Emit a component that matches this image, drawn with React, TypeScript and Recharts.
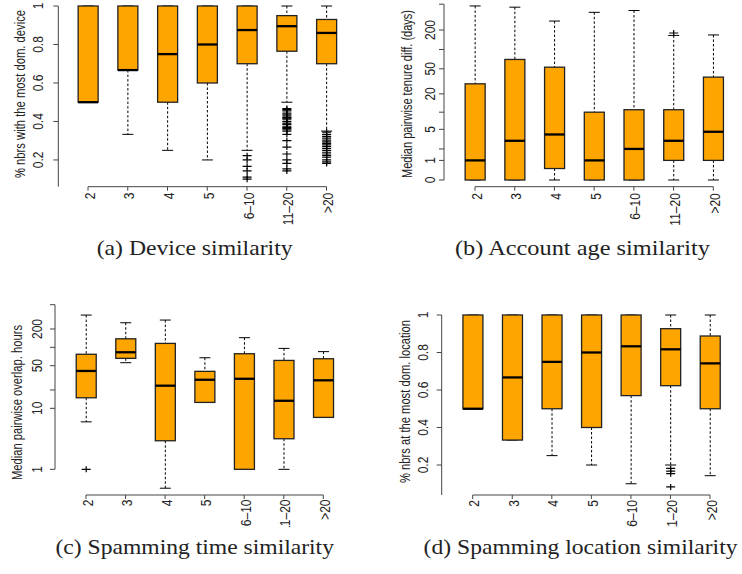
import React from 'react';
import { ComposedChart, Bar, XAxis, YAxis } from 'recharts';

const categories = ['2', '3', '4', '5', '6–10', '11–20', '>20'];

// (a) device similarity
const deviceMin = [0.5, 0.333, 0.25, 0.2, 0.25, 0.5, 0.35];
const deviceQ1 = [0.5, 0.667, 0.5, 0.6, 0.7, 0.765, 0.7];
const deviceMedian = [0.5, 0.667, 0.75, 0.8, 0.875, 0.895, 0.86];
const deviceQ3 = [1, 1, 1, 1, 1, 0.95, 0.93];
const deviceMax = [1, 1, 1, 1, 1, 1, 1];
const deviceOutliers: Record<string, number[]> = {
  '6–10': [0.222, 0.2, 0.167, 0.143, 0.111, 0.1],
  '11–20': [0.467, 0.462, 0.455, 0.444, 0.438, 0.429, 0.421, 0.417, 0.412, 0.4, 0.391, 0.385, 0.375, 0.368, 0.364, 0.357, 0.35, 0.333, 0.3, 0.267, 0.231, 0.2, 0.182, 0.154, 0.143],
  '>20': [0.345, 0.333, 0.323, 0.313, 0.303, 0.294, 0.286, 0.278, 0.27, 0.26, 0.25, 0.24, 0.231, 0.222, 0.214, 0.2, 0.19, 0.182],
};

// (b) account age similarity (days)
const tenureMin = [0, 0, 0, 0, 0, 0, 0];
const tenureQ1 = [0, 0, 0.5, 0, 0, 1, 1];
const tenureMedian = [1, 3, 4, 1, 2, 3, 4.5];
const tenureQ3 = [29, 70, 53, 10, 11, 11, 37];
const tenureMax = [470, 450, 275, 375, 400, 165, 168];
const tenureOutliers: Record<string, number[]> = { '11–20': [180] };

// (c) spamming time similarity (hours)
const overlapMin = [6, 56, 0.49, 12.5, 1, 1, 7.1];
const overlapQ1 = [14.9, 66, 2.94, 12.5, 1, 3.17, 7.1];
const overlapMedian = [41, 83, 23.5, 29.4, 30.5, 13.3, 28.8];
const overlapQ3 = [77, 138, 116, 40.4, 78.5, 61, 65];
const overlapMax = [338, 253, 280, 67.5, 144, 96, 85];
const overlapOutliers: Record<string, number[]> = { '2': [1] };

// (d) spamming location similarity
const locationMin = [0.5, 0.333, 0.25, 0.2, 0.1, 0.2, 0.143];
const locationQ1 = [0.5, 0.333, 0.5, 0.4, 0.57, 0.623, 0.5];
const locationMedian = [0.5, 0.667, 0.75, 0.8, 0.833, 0.817, 0.742];
const locationQ3 = [1, 1, 1, 1, 1, 0.927, 0.888];
const locationMax = [1, 1, 1, 1, 1, 1, 1];
const locationOutliers: Record<string, number[]> = { '11–20': [0.182, 0.167, 0.154, 0.083] };

// tick values
const unitTicks = [0.2, 0.4, 0.6, 0.8, 1];
const tenureTicks = [0, 1, 2, 5, 10, 20, 50, 100, 200, 500];
const tenureLabeled = [0, 1, 5, 20, 50, 200];
const overlapTicks = [1, 10, 20, 50, 100, 200, 500];
const overlapLabeled = [1, 10, 50, 200];

const SANS = "'Liberation Sans', Arial, Helvetica, sans-serif";
const SERIF = "'Liberation Serif', 'Times New Roman', Times, serif";
const STRETCH = 1.18; // the figure is stretched horizontally
const ORANGE = '#FFA500';

const lin = (v: number) => v;
const log1p10 = (v: number) => Math.log10(v + 1);
const logTen = (v: number) => Math.log10(v);

function buildRows(tf: (v: number) => number, mins: number[], q1s: number[], meds: number[], q3s: number[], maxs: number[], outs: Record<string, number[]>) {
  return categories.map((cat, i) => {
    const out = (outs[cat] || []).map(tf);
    const row = { min: tf(mins[i]), q1: tf(q1s[i]), med: tf(meds[i]), q3: tf(q3s[i]), max: tf(maxs[i]) };
    const lo = Math.min(row.min, ...out);
    const hi = Math.max(row.max, ...out);
    return { cat, ...row, out, range: [lo, hi] };
  });
}

// box + whiskers + outliers, positioned from the bar's [lo, hi] range
function BoxShape(props: any) {
  const { x, y, width, height, payload } = props;
  if (!payload) return <g />;
  const [lo, hi] = payload.range;
  const py = (t: number) => y + (height * (hi - t)) / (hi - lo);
  const cx = x + width / 2;
  const cap = 5.5;
  const yMax = py(payload.max);
  const yQ3 = py(payload.q3);
  const yMed = py(payload.med);
  const yQ1 = py(payload.q1);
  const yMin = py(payload.min);
  return (
    <g>
      <line x1={cx} x2={cx} y1={yMax} y2={yQ3} stroke="#000" strokeWidth={1} strokeDasharray="2.5 2" />
      <line x1={cx} x2={cx} y1={yQ1} y2={yMin} stroke="#000" strokeWidth={1} strokeDasharray="2.5 2" />
      <line x1={cx - cap} x2={cx + cap} y1={yMax} y2={yMax} stroke="#000" strokeWidth={1} />
      <line x1={cx - cap} x2={cx + cap} y1={yMin} y2={yMin} stroke="#000" strokeWidth={1} />
      <rect x={x} y={yQ3} width={width} height={Math.max(0, yQ1 - yQ3)} fill={ORANGE} stroke="#222" strokeWidth={1.3} />
      <line x1={x} x2={x + width} y1={yMed} y2={yMed} stroke="#000" strokeWidth={2.3} />
      {payload.out.map((t: number, k: number) => {
        const oy = py(t);
        return <path key={k} d={`M${cx - 4.5},${oy}H${cx + 4.5}M${cx},${oy - 3}V${oy + 3}`} stroke="#000" strokeWidth={1.2} fill="none" />;
      })}
    </g>
  );
}

type PanelCfg = {
  rows: any[];
  tf: (v: number) => number;
  ticks: number[];
  labeled: number[];
  domain: [number, number];
  cx: number; cy: number; cw: number; ch: number;
  axisX: number; plotTop: number; plotBottom: number; first: number; last: number;
  yLineEnd: number | null; // raw value where the y axis line stops
  yGap: number; // axis to tick-label baseline
  xGap: number; // axis to tick-label top
};

function BoxPanel({ cfg }: { cfg: PanelCfg }) {
  const s = (cfg.last - cfg.first) / 6;
  const yAxisW = cfg.axisX - cfg.cx;
  const padLeft = cfg.first - s / 2 - cfg.axisX;
  const rightMargin = cfg.cx + cfg.cw - (cfg.last + s / 2);
  const xAxisH = cfg.cy + cfg.ch - cfg.plotBottom;
  const plotH = cfg.plotBottom - cfg.plotTop;
  const tickT = cfg.ticks.map(cfg.tf);
  const [d0, d1] = cfg.domain;
  const yLen = cfg.yLineEnd == null ? plotH : ((d1 - cfg.tf(cfg.yLineEnd)) / (d1 - d0)) * plotH;

  const labelFor = (t: number) => {
    const i = tickT.findIndex((v) => Math.abs(v - t) < 1e-6);
    if (i < 0) return '';
    const raw = cfg.ticks[i];
    return cfg.labeled.includes(raw) ? String(raw) : '';
  };

  const YTick = (p: any) => {
    const txt = labelFor(p.payload.value);
    if (!txt) return <g />;
    return (
      <text transform={`translate(${p.x},${p.y}) scale(${STRETCH},1) rotate(-90)`} textAnchor="middle" fontSize={12} fontFamily={SANS} fill="#222">
        {txt}
      </text>
    );
  };

  const XTick = (p: any) => (
    <text transform={`translate(${p.x + 6.5},${p.y}) scale(${STRETCH},1) rotate(-90)`} textAnchor="end" fontSize={12} fontFamily={SANS} fill="#222">
      {p.payload.value}
    </text>
  );

  return (
    <div style={{ position: 'absolute', left: cfg.cx, top: cfg.cy, width: cfg.cw, height: cfg.ch, overflow: 'hidden' }}>
      <ComposedChart width={cfg.cw} height={cfg.ch} data={cfg.rows} margin={{ top: cfg.plotTop - cfg.cy, right: rightMargin, bottom: 0, left: 0 }}>
        <XAxis
          dataKey="cat"
          type="category"
          interval={0}
          height={xAxisH}
          padding={{ left: padLeft, right: 0 }}
          axisLine={{ stroke: '#444', strokeDasharray: `0 ${cfg.first - cfg.axisX} ${cfg.last - cfg.first} 10000` }}
          tickLine={{ stroke: '#444' }}
          tickSize={4}
          tickMargin={cfg.xGap - 4}
          tick={XTick}
        />
        <YAxis
          type="number"
          width={yAxisW}
          domain={cfg.domain}
          ticks={tickT}
          interval={0}
          axisLine={{ stroke: '#444', strokeDasharray: `${yLen} 10000` }}
          tickLine={{ stroke: '#444' }}
          tickSize={5}
          tickMargin={cfg.yGap - 5}
          tick={YTick}
        />
        <Bar dataKey="range" barSize={20} isAnimationActive={false} shape={(p: any) => <BoxShape {...p} />} />
      </ComposedChart>
    </div>
  );
}

const panels: PanelCfg[] = [
  {
    rows: buildRows(lin, deviceMin, deviceQ1, deviceMedian, deviceQ3, deviceMax, deviceOutliers),
    tf: lin, ticks: unitTicks, labeled: unitTicks, domain: [0.061, 1],
    cx: 0, cy: 0, cw: 370, ch: 234, axisX: 58.3, plotTop: 6, plotBottom: 186.7, first: 88, last: 326.5,
    yLineEnd: null, yGap: 15, xGap: 6,
  },
  {
    rows: buildRows(log1p10, tenureMin, tenureQ1, tenureMedian, tenureQ3, tenureMax, tenureOutliers),
    tf: log1p10, ticks: tenureTicks, labeled: tenureLabeled, domain: [-0.103, Math.log10(501)],
    cx: 370, cy: 0, cw: 372, ch: 234, axisX: 444, plotTop: 4.2, plotBottom: 186.7, first: 475, last: 713.3,
    yLineEnd: 0, yGap: 9, xGap: 6.5,
  },
  {
    rows: buildRows(logTen, overlapMin, overlapQ1, overlapMedian, overlapQ3, overlapMax, overlapOutliers),
    tf: logTen, ticks: overlapTicks, labeled: overlapLabeled, domain: [-0.421, Math.log10(500)],
    cx: 0, cy: 300, cw: 370, ch: 227, axisX: 55, plotTop: 304.7, plotBottom: 495, first: 86, last: 323.3,
    yLineEnd: 1, yGap: 13.3, xGap: 4.5,
  },
  {
    rows: buildRows(lin, locationMin, locationQ1, locationMedian, locationQ3, locationMax, locationOutliers),
    tf: lin, ticks: unitTicks, labeled: unitTicks, domain: [0.04, 1],
    cx: 370, cy: 300, cw: 372, ch: 227, axisX: 441.7, plotTop: 315, plotBottom: 495, first: 472.7, last: 710,
    yLineEnd: null, yGap: 13.4, xGap: 5,
  },
];

const yTitles = [
  { text: '% nbrs with the most dom. device', x: 25, y: 94, len: 168 },
  { text: 'Median pairwise tenure diff. (days)', x: 412, y: 94, len: 168 },
  { text: 'Median pairwise overlap. hours', x: 22, y: 402.5, len: 155 },
  { text: '% nbrs at the most dom. location', x: 410, y: 401.5, len: 163 },
];

// len is in unstretched units (page width / STRETCH)
const captions = [
  { text: '(a) Device similarity', x: 96.7, y: 255, len: 166 },
  { text: '(b) Account age similarity', x: 455, y: 254.5, len: 216 },
  { text: '(c) Spamming time similarity', x: 55.5, y: 554, len: 236 },
  { text: '(d) Spamming location similarity', x: 423.6, y: 554, len: 266 },
];

export default function App() {
  return (
    <div style={{ position: 'absolute', left: 0, top: 0, width: 742, height: 574, background: '#fff', overflow: 'hidden' }}>
      {panels.map((cfg, i) => (
        <BoxPanel key={i} cfg={cfg} />
      ))}
      <svg width={742} height={574} style={{ position: 'absolute', left: 0, top: 0, pointerEvents: 'none' }}>
        {yTitles.map((t) => (
          <text
            key={t.text}
            transform={`translate(${t.x},${t.y}) scale(${STRETCH},1) rotate(-90)`}
            textAnchor="middle"
            fontSize={12}
            fontFamily={SANS}
            fill="#222"
            textLength={t.len}
            lengthAdjust="spacingAndGlyphs"
          >
            {t.text}
          </text>
        ))}
        {captions.map((c) => (
          <text
            key={c.text}
            transform={`translate(${c.x},${c.y}) scale(${STRETCH},1)`}
            fontSize={20}
            fontFamily={SERIF}
            fill="#222"
            textLength={c.len}
            lengthAdjust="spacingAndGlyphs"
          >
            {c.text}
          </text>
        ))}
      </svg>
    </div>
  );
}
